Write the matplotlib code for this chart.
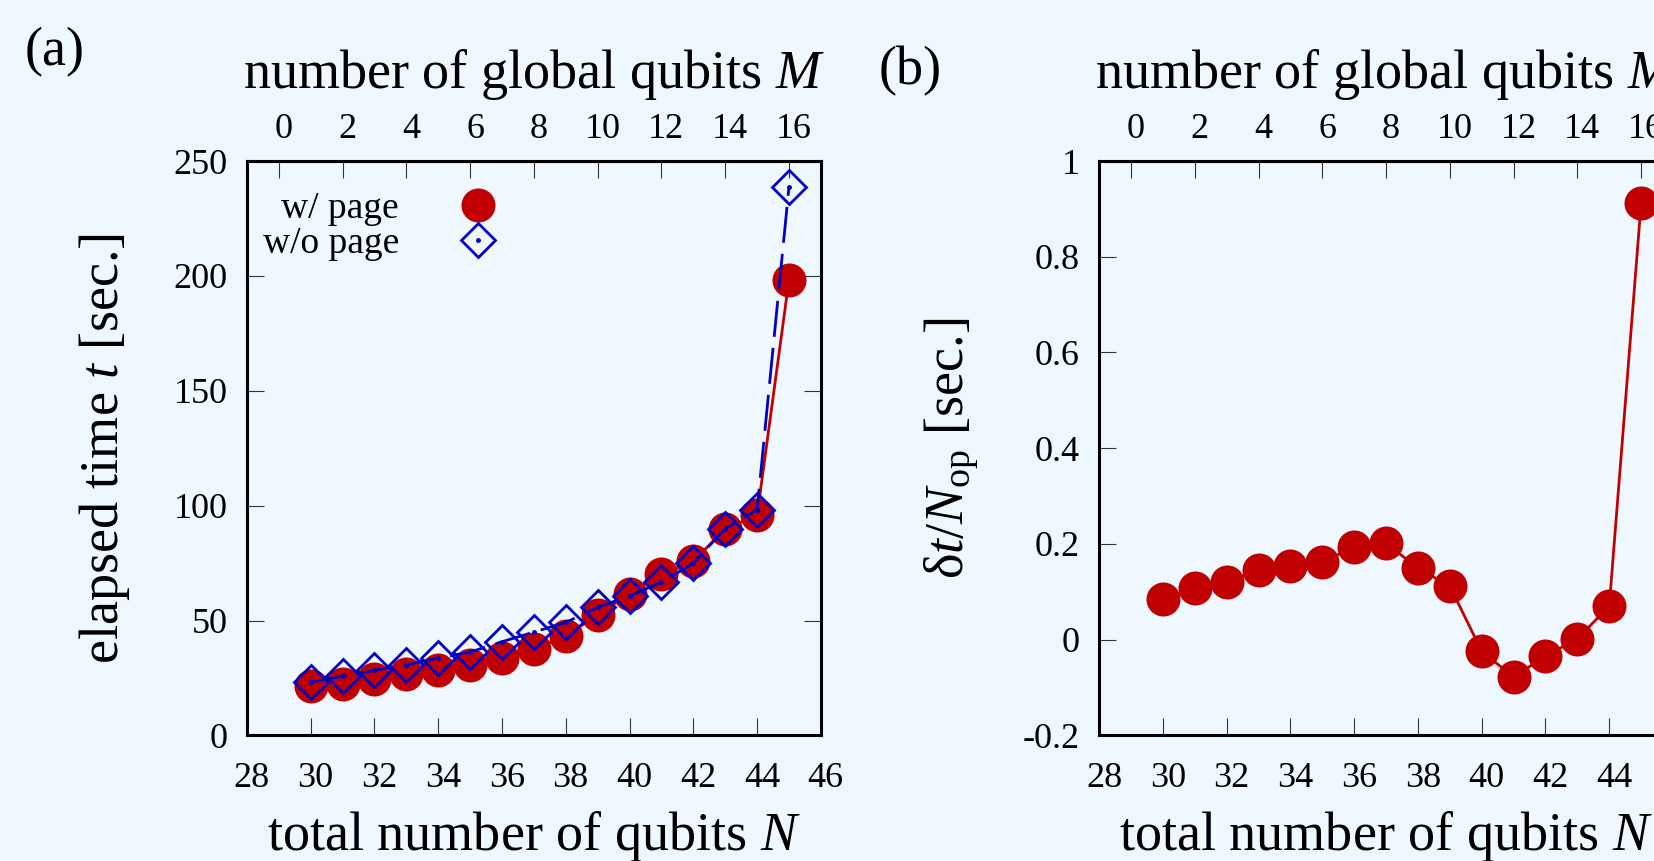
import numpy as np
import matplotlib.pyplot as plt
from matplotlib.lines import Line2D
from matplotlib.legend_handler import HandlerTuple
from matplotlib.ticker import FuncFormatter
from matplotlib.transforms import ScaledTranslation

plt.rcParams['font.family'] = ['Liberation Serif', 'DejaVu Serif']
plt.rcParams['mathtext.fontset'] = 'custom'
plt.rcParams['mathtext.rm'] = 'Liberation Serif'
plt.rcParams['mathtext.it'] = 'Liberation Serif:italic'
plt.rcParams['mathtext.bf'] = 'Liberation Serif:bold'
plt.rcParams['axes.unicode_minus'] = False

# ---- data ----
n_qubits = [30, 31, 32, 33, 34, 35, 36, 37, 38, 39, 40, 41, 42, 43, 44, 45]
t_page = [21.6, 22.5, 24.7, 26.7, 28.7, 30.8, 33.7, 37.5, 43.3, 52.5,
          61.7, 70.3, 75.8, 90.0, 95.8, 198.3]
t_nopage = [23.3, 25.8, 28.3, 30.8, 33.7, 36.3, 40.8, 45.0, 49.2, 55.8,
            60.8, 66.6, 75.0, 90.0, 98.3, 238.8]
dt_per_op = [0.086, 0.108, 0.120, 0.146, 0.154, 0.162, 0.194, 0.202,
             0.149, 0.112, -0.024, -0.078, -0.034, 0.002, 0.070, 0.912]
n_ticks = [28, 30, 32, 34, 36, 38, 40, 42, 44, 46]
m_ticks = [0, 2, 4, 6, 8, 10, 12, 14, 16]
t_ticks = [0, 50, 100, 150, 200, 250]
d_ticks = [-0.2, 0, 0.2, 0.4, 0.6, 0.8, 1.0]
M_OFFSET = 29  # M = N - 29

BG = '#f0f8ff'
RED = '#c00000'
BLUE = '#0000c0'
TICK_FS = 26
LABEL_FS = 39


def style_axes(fig, ax, yticks):
    ax.set_facecolor(BG)
    for s in ax.spines.values():
        s.set_linewidth(2.2)
    ax.set_xlim(28, 46)
    ax.set_xticks(n_ticks)
    ax.set_yticks(yticks)
    ax.tick_params(axis='both', direction='in', length=12, width=0.8,
                   color='#333333', labelsize=TICK_FS)
    ax.tick_params(axis='x', pad=19)
    ax.tick_params(axis='y', pad=14, right=True)
    ax.set_xlabel('total number of qubits $N$', fontsize=LABEL_FS, labelpad=10)
    sec = ax.secondary_xaxis('top', functions=(lambda n: n - M_OFFSET,
                                                lambda m: m + M_OFFSET))
    sec.set_xticks(m_ticks)
    sec.tick_params(direction='in', length=12, width=0.8, color='#333333',
                    labelsize=TICK_FS, pad=11)
    sec.spines['top'].set_linewidth(2.2)
    sec.set_xlabel('number of global qubits $M$', fontsize=LABEL_FS, labelpad=18)
    # gnuplot puts x tick labels a little right of their ticks
    shift = ScaledTranslation(3.5 / 72, 0, fig.dpi_scale_trans)
    for lab in ax.get_xticklabels() + sec.get_xticklabels():
        lab.set_transform(lab.get_transform() + shift)
    return sec


fig = plt.figure(figsize=(16.54, 8.61), dpi=100, facecolor=BG)
ax1 = fig.add_axes([0.1493, 0.1458, 0.347, 0.6672])
ax2 = fig.add_axes([0.6645, 0.1458, 0.347, 0.6672])

# ---- panel (a) ----
style_axes(fig, ax1, t_ticks)
ax1.set_ylim(0, 250)
ax1.plot(n_qubits, t_page, color=RED, lw=2, marker='o', ms=24.5,
         mew=0, zorder=2)
ax1.plot(n_qubits, t_nopage, color=BLUE, lw=2, ls=(0, (13, 4)), marker='D',
         ms=17, mfc='none', mec=BLUE, mew=2, zorder=3)
ax1.plot(n_qubits, t_nopage, ls='none', marker='o', ms=2.5, color=BLUE,
         zorder=4)
ax1.set_ylabel('elapsed time $t$ [sec.]', fontsize=LABEL_FS, labelpad=30)

h_red = Line2D([], [], ls='none', marker='o', ms=24.5, mew=0, color=RED)
h_blue = Line2D([], [], ls='none', marker='D', ms=17, mfc='none', mec=BLUE,
                mew=2)
h_dot = Line2D([], [], ls='none', marker='o', ms=2.5, color=BLUE)
ax1.legend([h_red, (h_blue, h_dot)], ['w/ page', 'w/o page'],
           handler_map={tuple: HandlerTuple(ndivide=1)},
           loc='upper left', bbox_to_anchor=(-0.005, 0.98), frameon=False,
           markerfirst=False, fontsize=27, borderpad=0, labelspacing=0.02,
           handlelength=1.4, handletextpad=1.4)

# ---- panel (b) ----
style_axes(fig, ax2, d_ticks)
ax2.set_ylim(-0.2, 1.0)
ax2.yaxis.set_major_formatter(FuncFormatter(lambda v, p: '%g' % round(v, 2)))
ax2.plot(n_qubits, dt_per_op, color=RED, lw=2, marker='o', ms=24.5, mew=0)
ax2.set_ylabel('δ$t/N_{\\rm op}$ [sec.]', fontsize=LABEL_FS, labelpad=30)

fig.text(0.015, 0.94, '(a)', fontsize=LABEL_FS, ha='left', va='center')
fig.text(0.531, 0.918, '(b)', fontsize=LABEL_FS, ha='left', va='center')

fig.savefig('out.png', dpi=100, facecolor=BG)
